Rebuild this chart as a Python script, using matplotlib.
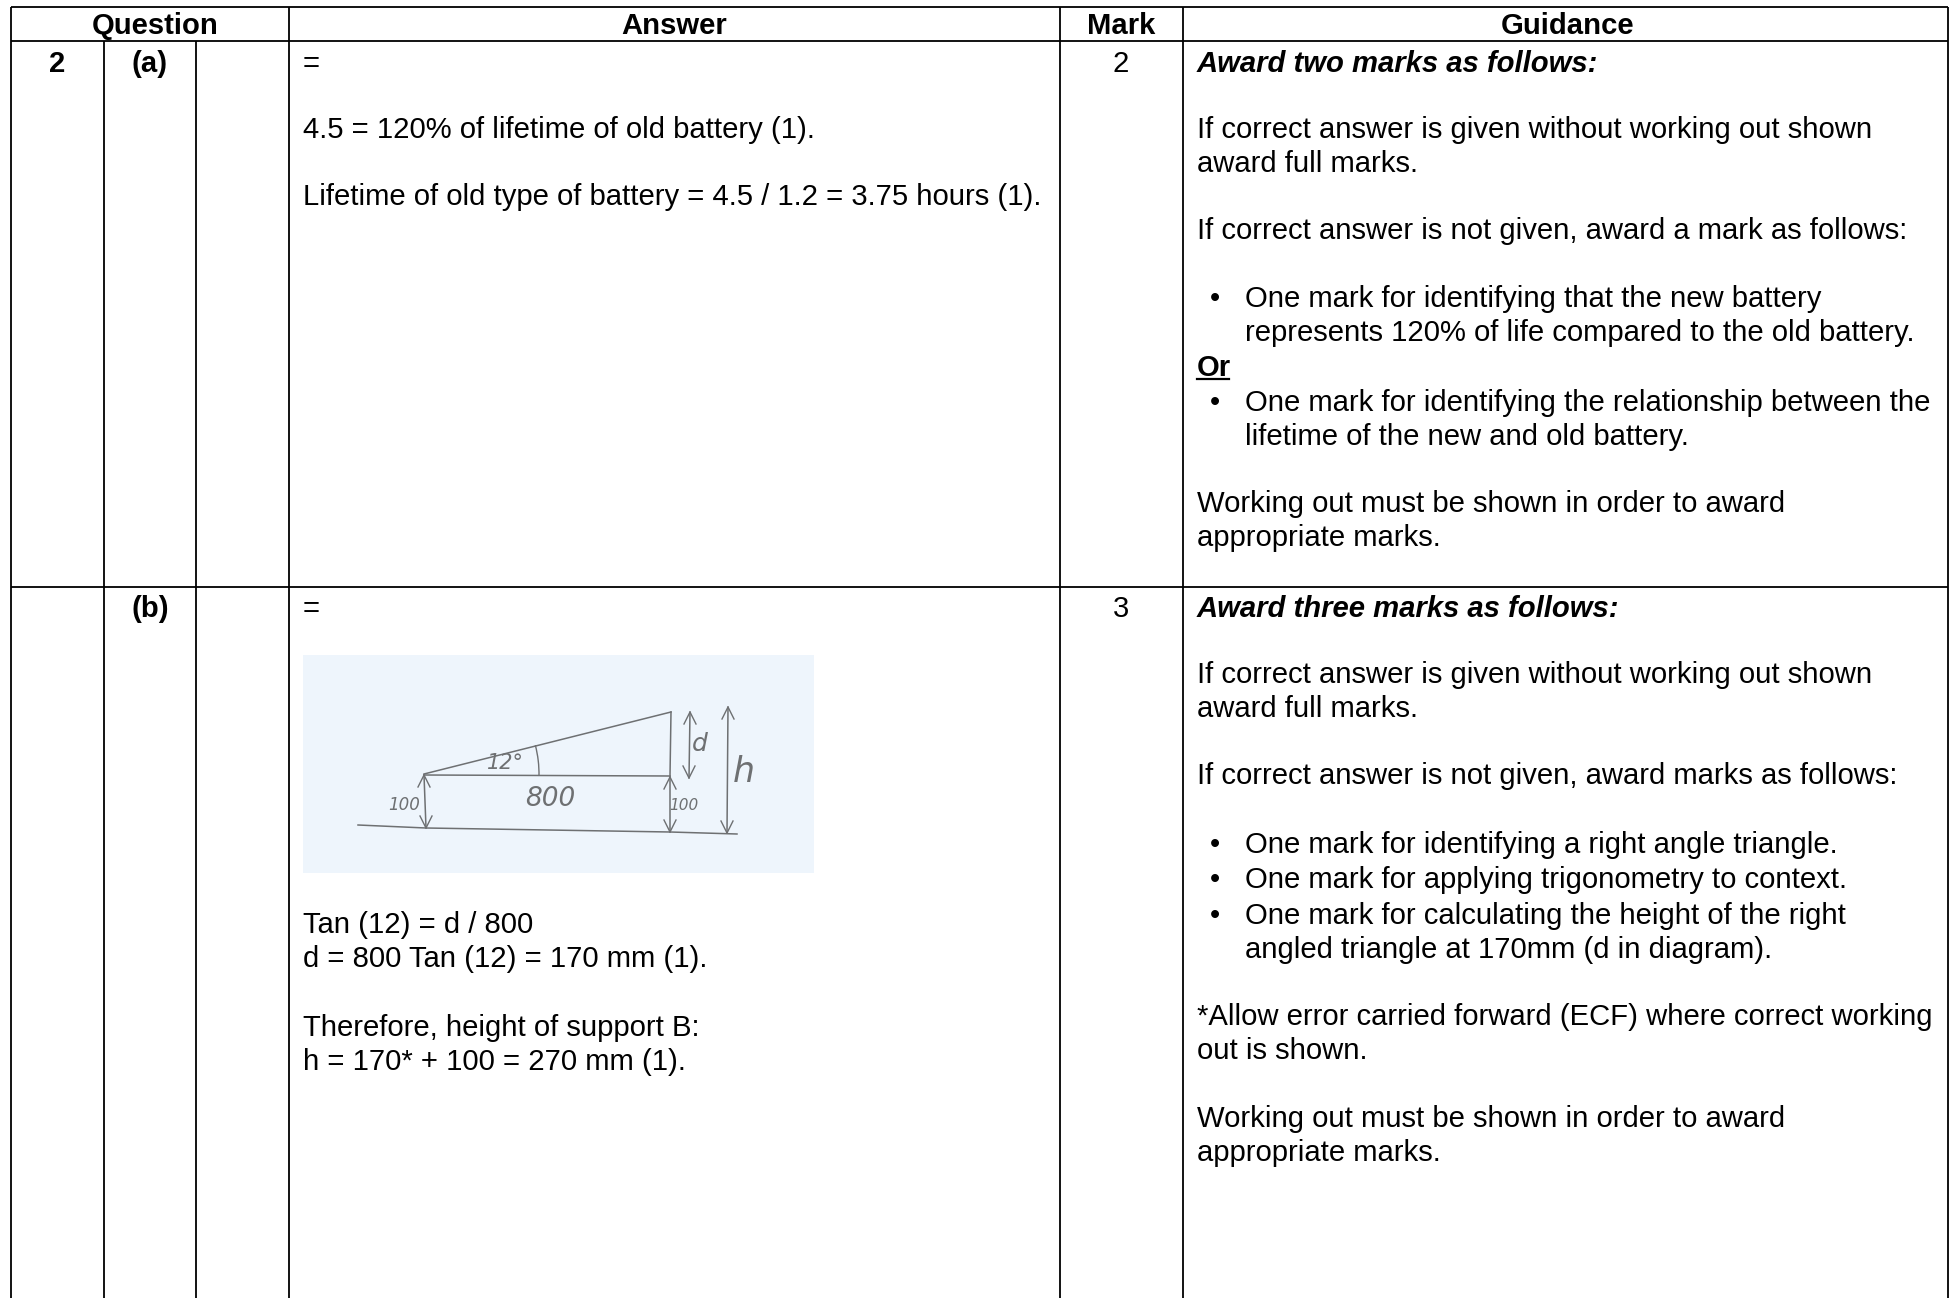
import matplotlib
matplotlib.use("Agg")
import matplotlib.pyplot as plt
from matplotlib.patches import Rectangle, Arc

W, H = 1954, 1298
FS = 21.05
plt.rcParams['font.family'] = ['Liberation Sans', 'DejaVu Sans']

v_lines = [(11, 7, 1298), (104, 41, 1298), (196, 41, 1298), (289, 7, 1298),
           (1060, 7, 1298), (1183, 7, 1298), (1948, 7, 1298)]
h_lines = [(11, 1948, 7), (11, 1948, 41), (11, 1948, 587)]

headers = [("Question", 155, 34), ("Answer", 674, 34), ("Mark", 1121, 34), ("Guidance", 1568, 34)]
row_labels = [("2", 57, 72), ("(a)", 150, 72), ("(b)", 150, 617), ("2", 1121, 72), ("3", 1121, 617)]

answer_x = 303
answer_lines = [
    ("=", 72), ("4.5 = 120% of lifetime of old battery (1).", 138),
    ("Lifetime of old type of battery = 4.5 / 1.2 = 3.75 hours (1).", 205),
    ("=", 617), ("Tan (12) = d / 800", 933), ("d = 800 Tan (12) = 170 mm (1).", 967),
    ("Therefore, height of support B:", 1036), ("h = 170* + 100 = 270 mm (1).", 1070),
]
guide_x = 1197
guide_lines = [
    ("If correct answer is given without working out shown", 138),
    ("award full marks.", 172),
    ("If correct answer is not given, award a mark as follows:", 239),
    ("Working out must be shown in order to award", 512),
    ("appropriate marks.", 546),
    ("If correct answer is given without working out shown", 683),
    ("award full marks.", 717),
    ("If correct answer is not given, award marks as follows:", 784),
    ("*Allow error carried forward (ECF) where correct working", 1025),
    ("out is shown.", 1059),
    ("Working out must be shown in order to award", 1127),
    ("appropriate marks.", 1161),
]
guide_heads = [("Award two marks as follows:", 72), ("Award three marks as follows:", 617)]
bullet_x, bullet_text_x = 1215, 1245
bullet_lines = [
    ("One mark for identifying that the new battery", 307, True),
    ("represents 120% of life compared to the old battery.", 341, False),
    ("One mark for identifying the relationship between the", 411, True),
    ("lifetime of the new and old battery.", 445, False),
    ("One mark for identifying a right angle triangle.", 853, True),
    ("One mark for applying trigonometry to context.", 888, True),
    ("One mark for calculating the height of the right", 924, True),
    ("angled triangle at 170mm (d in diagram).", 958, False),
]

# hand-drawn diagram, in full-size pixels
sketch_box = (303, 655, 814, 873)
sketch_lines = [
    [(358, 825), (426, 828), (670, 832), (737, 834)],
    [(424, 774), (671, 712)],
    [(424, 775), (670, 776)],
    [(671, 712), (670, 776)],
    [(424, 775), (426, 828)],
    [(670, 777), (670, 832)],
    [(690, 712), (689, 778)],
    [(728, 707), (727, 833)],
]
sketch_heads = [(424, 775, 1), (426, 828, -1), (670, 777, 1), (670, 832, -1),
                (690, 712, 1), (689, 778, -1), (728, 707, 1), (727, 833, -1)]
sketch_labels = [("100", 404, 805, 12), ("100", 684, 806, 11), ("800", 550, 799, 19),
                 ("12°", 505, 763, 15), ("d", 700, 744, 18), ("h", 744, 772, 25)]

fig = plt.figure(figsize=(W / 100, H / 100), dpi=100, facecolor="white")
ax = fig.add_axes([0, 0, 1, 1])
ax.set_xlim(0, W)
ax.set_ylim(H, 0)
ax.axis("off")

for x, y0, y1 in v_lines:
    ax.plot([x, x], [y0, y1], color="black", lw=1.3, solid_capstyle="butt")
for x0, x1, y in h_lines:
    ax.plot([x0, x1], [y, y], color="black", lw=1.3, solid_capstyle="butt")

for s, x, y in headers + row_labels[:3]:
    ax.text(x, y, s, fontsize=FS, weight="bold", ha="center", va="baseline")
for s, x, y in row_labels[3:]:
    ax.text(x, y, s, fontsize=FS, ha="center", va="baseline")
for s, y in answer_lines:
    ax.text(answer_x, y, s, fontsize=FS, va="baseline")
for s, y in guide_lines:
    ax.text(guide_x, y, s, fontsize=FS, va="baseline")
for s, y in guide_heads:
    ax.text(guide_x, y, s, fontsize=FS, weight="bold", style="italic", va="baseline")
for s, y, b in bullet_lines:
    if b:
        ax.text(bullet_x, y, "•", fontsize=FS, ha="center", va="baseline")
    ax.text(bullet_text_x, y, s, fontsize=FS, va="baseline")
ax.text(guide_x, 376, "Or", fontsize=FS, weight="bold", va="baseline")
ax.plot([guide_x, guide_x + 32], [379, 379], color="black", lw=1.6)

x0, y0, x1, y1 = sketch_box
ax.add_patch(Rectangle((x0, y0), x1 - x0, y1 - y0, facecolor="#eef5fc", edgecolor="none"))
INK = "#6e7072"
for pts in sketch_lines:
    ax.plot([p[0] for p in pts], [p[1] for p in pts], color=INK, lw=1.1)
for x, y, d in sketch_heads:
    ax.plot([x - 6, x, x + 6], [y + d * 12, y, y + d * 12], color=INK, lw=1.0)
ax.add_patch(Arc((424, 774), 230, 230, theta1=-14.5, theta2=1, color=INK, lw=1.0))
for s, x, y, fs in sketch_labels:
    ax.text(x, y, s, fontsize=fs, color=INK, ha="center", va="center",
            style="italic", family=["DejaVu Sans"])

fig.savefig("out.png", dpi=100, facecolor="white")
